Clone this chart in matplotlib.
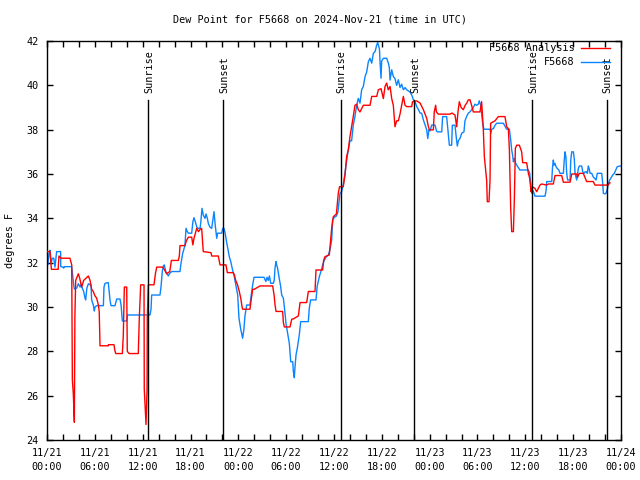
import matplotlib
matplotlib.use("Agg")
import matplotlib.pyplot as plt
import numpy as np

# ---- data (hours since 2024-11-21 00:00 UTC, dew point in F) ----
analysis_hours = [0.0, 0.38, 0.55, 1.4, 1.5, 1.76, 2.88, 3.1, 3.18, 3.3, 3.43, 3.5, 3.6, 3.93, 4.1, 4.35, 4.6, 4.9,
    5.19, 5.4, 5.6, 5.8, 6.02, 6.23, 6.44, 6.55, 6.65, 7.69, 7.7, 8.4, 8.5, 8.62, 9.45, 9.57, 9.7, 10.0, 10.07,
    10.3, 11.45, 11.58, 11.75, 12.17, 12.2, 12.42, 12.55, 12.58, 12.71, 13.42, 13.6, 13.76, 14.51, 14.7, 15.0,
    15.4, 15.6, 16.47, 16.6, 16.68, 17.3, 17.5, 17.73, 18.15, 18.3, 18.44, 18.78, 19.0, 19.2, 19.4, 19.6, 20.57,
    20.66, 21.49, 21.7, 22.45, 22.62, 23.37, 23.5, 23.67, 23.9, 24.12, 24.3, 24.5, 24.55, 25.46, 25.6, 25.8,
    26.0, 26.72, 28.31, 28.5, 28.6, 28.73, 29.56, 29.65, 29.77, 30.48, 30.7, 30.9, 31.53, 31.74, 32.57, 32.78,
    33.62, 33.74, 34.58, 34.7, 34.87, 35.41, 35.5, 35.71, 35.91, 36.3, 36.54, 36.7, 37.16, 37.4, 37.58, 37.8,
    38.0, 38.42, 38.63, 38.85, 39.05, 39.26, 39.68, 40.52, 40.73, 41.36, 41.56, 41.9, 42.19, 42.4, 42.61, 42.8,
    43.03, 43.24, 43.44, 43.65, 43.86, 44.07, 44.28, 44.49, 44.7, 44.91, 45.12, 45.75, 45.85, 46.38, 46.8,
    47.21, 47.42, 47.63, 47.8, 47.96, 48.46, 48.58, 48.75, 48.85, 49.08, 50.55, 50.8, 51.18, 51.39, 51.55,
    51.72, 51.95, 52.22, 52.45, 52.65, 52.84, 53.05, 53.26, 53.47, 54.31, 54.52, 54.73, 54.86, 55.15, 55.23,
    55.44, 55.57, 55.65, 56.2, 56.61, 57.45, 57.66, 57.87, 58.0, 58.16, 58.29, 58.5, 58.62, 58.75, 58.92,
    59.25, 59.54, 59.67, 60.09, 60.17, 60.38, 60.55, 60.72, 60.8, 61.0, 61.21, 61.42, 61.63, 61.84, 62.05,
    62.68, 62.9, 63.51, 63.72, 64.56, 64.77, 65.61, 65.82, 66.44, 66.55, 66.77, 67.27, 67.48, 67.69, 68.52,
    68.74, 70.41, 70.55, 70.62]
analysis_values = [32.5, 32.5, 31.7, 31.7, 32.3, 32.2, 32.2, 31.9, 26.7, 26.1, 24.8, 29.6, 31.2, 31.5, 31.3, 30.9, 31.2, 31.3,
    31.4, 31.2, 30.8, 30.7, 30.5, 30.4, 30.1, 29.8, 28.25, 28.25, 28.3, 28.3, 28.06, 27.9, 27.9, 28.7, 30.9, 30.9, 28.0,
    27.9, 27.9, 29.5, 31.0, 31.0, 26.3, 24.7, 26.3, 29.5, 31.0, 31.0, 31.5, 31.8, 31.8, 31.7, 31.5,
    31.6, 32.1, 32.1, 32.3, 32.77, 32.77, 33.0, 33.15, 33.15, 32.8, 33.1, 33.55, 33.4, 33.5, 33.55, 32.5, 32.45,
    32.3, 32.3, 31.9, 31.9, 31.55, 31.55, 31.45, 31.2, 31.0, 30.7, 30.4, 29.94, 29.9, 29.9, 30.3, 30.8,
    30.8, 30.95, 30.95, 30.5, 30.1, 29.8, 29.8, 29.3, 29.1, 29.1, 29.45, 29.46, 29.6, 30.2, 30.2, 30.7,
    30.7, 31.67, 31.67, 32.1, 32.27, 32.35, 32.7, 33.55, 34.07, 34.2, 35.14, 35.43, 35.43, 36.0, 36.78, 37.1,
    37.68, 38.6, 39.1, 39.15, 38.9, 38.8, 39.1, 39.1, 39.5, 39.5, 39.8, 39.85, 39.4, 39.95, 40.1, 39.8,
    39.95, 39.4, 39.1, 38.13, 38.4, 38.4, 38.7, 39.1, 39.5, 39.1, 39.04, 39.04, 39.26, 39.3, 39.2,
    38.9, 38.7, 38.51, 38.2, 37.99, 37.99, 38.81, 39.1, 38.8, 38.7, 38.7, 38.75, 38.66, 38.13, 38.8,
    39.26, 39.0, 38.9, 39.1, 39.2, 39.34, 39.35, 39.1, 38.8, 38.8, 39.26, 38.0, 36.78, 35.7, 34.75,
    34.75, 35.7, 38.29, 38.4, 38.59, 38.59, 38.13, 38.05, 37.08, 34.5, 33.4, 33.4, 34.8, 37.16, 37.3,
    37.3, 37.0, 36.51, 36.51, 36.5, 36.03, 35.8, 35.2, 35.35, 35.4, 35.35, 35.2, 35.35, 35.5, 35.55,
    35.5, 35.55, 35.55, 35.93, 35.93, 35.63, 35.63, 36.0, 36.0, 35.85, 36.03, 36.03, 35.85, 35.66, 35.66,
    35.5, 35.5, 35.6, 35.6]

station_hours = [0.0, 0.1, 0.25, 0.38, 0.5, 0.67, 0.85, 0.95, 1.0, 1.21, 1.71, 1.72, 2.0, 2.1, 2.17, 3.1, 3.25, 3.35,
    3.43, 3.72, 3.93, 4.15, 4.27, 4.43, 4.6, 4.77, 4.85, 5.0, 5.19, 5.4, 5.52, 5.6, 5.8, 5.94, 6.02, 6.23,
    7.07, 7.15, 7.28, 7.69, 7.9, 8.03, 8.53, 8.74, 9.16, 9.3, 9.45, 10.0, 10.1, 12.92, 13.05, 13.13, 14.17,
    14.3, 14.46, 14.6, 14.71, 14.9, 15.22, 15.35, 15.64, 16.68, 16.8, 17.02, 17.3, 17.44, 17.6, 17.73, 18.15,
    18.3, 18.44, 18.6, 18.8, 18.98, 19.2, 19.3, 19.44, 19.6, 19.82, 19.95, 20.11, 20.25, 20.45, 20.66, 20.8,
    20.95, 21.1, 21.2, 21.29, 21.4, 21.91, 22.05, 22.2, 22.35, 22.54, 22.65, 22.87, 23.05, 23.29, 23.5,
    23.71, 23.92, 24.08, 24.3, 24.54, 24.7, 24.83, 25.05, 25.46, 25.6, 25.8, 25.97, 27.22, 27.45, 27.6,
    27.75, 27.9, 28.06, 28.39, 28.5, 28.6, 28.73, 28.8, 28.9, 29.01, 29.15, 29.3, 29.44, 29.65, 29.86,
    29.98, 30.19, 30.4, 30.57, 30.82, 30.9, 31.02, 31.1, 31.24, 31.4, 31.53, 31.65, 31.82, 32.78, 32.9,
    33.07, 33.74, 33.9, 34.16, 34.4, 34.58, 34.75, 35.0, 35.3, 35.5, 35.71, 35.83, 36.12, 36.3, 36.5,
    36.75, 36.95, 37.16, 37.37, 37.58, 37.79, 38.0, 38.21, 38.42, 38.63, 38.84, 39.05, 39.26, 39.47, 39.68,
    39.89, 40.1, 40.31, 40.52, 40.73, 40.94, 41.15, 41.36, 41.48, 41.7, 41.77, 41.9, 41.98, 42.19, 42.61,
    42.82, 42.94, 43.03, 43.24, 43.44, 43.65, 43.86, 44.07, 44.28, 44.49, 44.7, 44.91, 45.12, 45.33, 45.54,
    45.75, 45.96, 46.17, 46.38, 46.6, 46.8, 47.0, 47.21, 47.42, 47.63, 47.76, 47.92, 48.05, 48.26, 48.67,
    48.85, 48.96, 49.51, 49.63, 50.13, 50.3, 50.47, 50.76, 50.84, 51.18, 51.35, 51.47, 51.6, 51.8, 52.02,
    52.3, 52.43, 52.64, 52.84, 53.05, 53.47, 53.68, 53.9, 54.1, 54.22, 54.4, 54.52, 54.65, 54.81, 55.57,
    55.68, 55.78, 56.0, 56.2, 56.4, 57.24, 57.45, 57.66, 58.0, 58.16, 58.29, 58.4, 58.5, 58.62, 58.79,
    59.05, 59.33, 60.38, 60.55, 60.63, 60.72, 60.8, 60.95, 61.1, 61.21, 62.47, 62.6, 62.68, 63.31, 63.4,
    63.51, 63.6, 63.72, 63.85, 64.0, 64.2, 64.35, 64.77, 64.88, 64.98, 65.08, 65.19, 65.3, 65.61, 65.7,
    65.82, 66.03, 66.15, 66.24, 66.44, 66.65, 66.77, 67.07, 67.2, 67.36, 67.5, 67.65, 67.78, 67.9, 68.0,
    68.12, 68.33, 68.5, 68.7, 68.87, 69.03, 69.58, 69.7, 69.79, 70.0, 70.12, 70.3, 70.41, 70.58, 70.71,
    70.95, 71.16, 71.35, 71.53, 71.87, 72.0]
station_values = [32.0, 31.9, 32.42, 32.56, 31.95, 32.2, 32.2, 31.95, 31.8, 32.5, 32.5, 31.82, 31.8, 31.75, 31.82, 31.82, 31.3, 31.0,
    30.81, 30.85, 31.05, 30.9, 31.02, 30.85, 30.7, 30.4, 30.32, 30.85, 31.05, 31.0, 31.0, 30.32, 30.1, 29.82, 30.0, 30.06,
    30.06, 30.9, 31.07, 31.1, 30.32, 30.06, 30.06, 30.36, 30.36, 30.06, 29.37, 29.37, 29.64, 29.64, 29.9, 30.54, 30.54,
    30.9, 31.6, 31.85, 31.9, 31.6, 31.4, 31.5, 31.6, 31.6, 31.95, 32.42, 32.77, 33.55, 33.4, 33.33, 33.33,
    33.85, 34.03, 33.85, 33.6, 33.55, 33.55, 33.85, 34.45, 34.15, 34.0, 34.2, 34.0, 33.75, 33.6, 33.55, 33.9,
    34.3, 33.7, 33.4, 33.1, 33.33, 33.33, 33.55, 33.55, 33.33, 32.9, 32.7, 32.27, 32.05, 31.65, 31.35,
    30.95, 30.54, 29.5, 29.0, 28.59, 29.0, 29.6, 30.09, 30.09, 30.5, 31.0, 31.34, 31.34, 31.15, 31.34,
    31.2, 31.4, 31.07, 31.07, 31.2, 31.75, 32.05, 31.9, 31.8, 31.55, 31.25, 30.95, 30.54, 30.4, 29.7,
    29.25, 28.8, 28.35, 27.53, 27.53, 27.1, 26.81, 27.25, 27.85, 28.15, 28.45, 28.75, 29.34, 29.34, 29.95,
    30.32, 30.32, 30.95, 31.37, 31.65, 31.9, 32.08, 32.25, 32.35, 32.6, 33.02, 33.95, 34.07, 34.1, 34.3,
    35.13, 35.2, 35.5, 36.03, 36.6, 37.08, 37.5, 37.5, 38.21, 38.6, 39.1, 39.41, 39.2, 39.8, 39.95,
    40.39, 40.6, 41.07, 41.22, 41.0, 41.45, 41.52, 41.82, 41.93, 41.65, 41.1, 40.32, 41.1, 41.22, 41.22,
    41.0, 40.8, 40.24, 40.7, 40.4, 40.3, 40.0, 40.25, 39.9, 40.05, 39.8, 39.9, 39.8, 39.75, 39.7,
    39.56, 39.35, 39.25, 39.04, 38.9, 38.75, 38.74, 38.44, 38.21, 37.99, 37.6, 38.0, 37.95, 38.21, 38.21,
    37.95, 37.9, 37.9, 38.59, 38.59, 37.95, 37.3, 37.3, 38.2, 38.2, 37.6, 37.26, 37.5, 37.6, 37.84,
    37.9, 38.4, 38.6, 38.74, 38.8, 39.0, 39.15, 39.1, 39.15, 39.3, 39.1, 38.7, 38.29, 38.02, 38.02,
    37.85, 38.02, 38.05, 38.2, 38.29, 38.29, 38.15, 38.02, 38.02, 37.55, 37.08, 36.86, 36.55, 36.7, 36.48,
    36.33, 36.18, 36.18, 36.03, 35.7, 35.43, 35.13, 35.25, 35.13, 35.0, 35.0, 35.25, 35.66, 35.66, 36.25,
    36.63, 36.4, 36.48, 36.33, 36.25, 36.18, 36.03, 36.03, 36.63, 37.0, 36.8, 36.03, 35.73, 35.73, 36.63,
    37.0, 37.0, 36.63, 36.03, 35.73, 36.25, 36.36, 36.36, 36.1, 36.03, 36.1, 36.1, 36.03, 36.36, 36.25,
    36.03, 36.03, 35.88, 35.8, 35.73, 36.03, 36.03, 35.6, 35.13, 35.1, 35.13, 35.35, 35.58, 35.73, 35.8,
    35.95, 36.03, 36.18, 36.33, 36.36, 36.36]

sun_event_hours = [12.71, 22.1, 36.84, 46.08, 60.88, 70.2]
sun_event_labels = ["Sunrise", "Sunset", "Sunrise", "Sunset", "Sunrise", "Sunset"]

xtick_hours = [0, 6, 12, 18, 24, 30, 36, 42, 48, 54, 60, 66, 72]
xtick_labels = ["11/21\n00:00", "11/21\n06:00", "11/21\n12:00", "11/21\n18:00",
                "11/22\n00:00", "11/22\n06:00", "11/22\n12:00", "11/22\n18:00",
                "11/23\n00:00", "11/23\n06:00", "11/23\n12:00", "11/23\n18:00",
                "11/24\n00:00"]
yticks = [24, 26, 28, 30, 32, 34, 36, 38, 40, 42]

plt.rcParams['font.family'] = ['DejaVu Sans Mono']
FS = 7.3

fig = plt.figure(figsize=(6.4, 4.8), dpi=100)
ax = fig.add_axes([47/640, 1-440/480, (621-47)/640, (440-41)/480])

red = '#ff0000'
blue = '#0a84ff'
ax.plot(analysis_hours, analysis_values, color=red, lw=1.0, label='F5668 Analysis', zorder=3)
ax.plot(station_hours, station_values, color=blue, lw=1.0, label='F5668', zorder=2)

trans = ax.get_xaxis_transform()
for h, lab in zip(sun_event_hours, sun_event_labels):
    ax.plot([h, h], [0, (440-100)/399], color='black', lw=1.0, transform=trans, zorder=4)
    ax.text(h + 0.1, (440-93)/399, lab, rotation=90, ha='center', va='bottom',
            fontsize=FS, transform=trans, zorder=5)

ax.set_xlim(0, 72)
ax.set_ylim(24, 42)
ax.set_xticks(xtick_hours)
ax.set_xticklabels(xtick_labels, fontsize=FS, linespacing=1.45)
ax.set_xticks(np.arange(0, 73, 2), minor=True)
ax.set_yticks(yticks)
ax.set_yticklabels([str(v) for v in yticks], fontsize=FS)
ax.tick_params(which='both', direction='in', top=True, right=True, length=4, width=1.0)
ax.tick_params(axis='x', which='major', pad=6)
ax.tick_params(axis='y', which='major', pad=6)
for s in ax.spines.values():
    s.set_linewidth(1.0)

ax.set_ylabel('degrees F', fontsize=FS, labelpad=8)
fig.text(0.5, 1-20/480, 'Dew Point for F5668 on 2024-Nov-21 (time in UTC)',
         ha='center', va='center', fontsize=FS)

leg = ax.legend(loc='upper right', bbox_to_anchor=((610-47)/574, 0.994), frameon=False,
                markerfirst=False, handlelength=2.9, handletextpad=0.6, fontsize=FS,
                borderaxespad=0, borderpad=0, labelspacing=0.38)
leg.set_zorder(6)

fig.savefig('out.png', dpi=100)
